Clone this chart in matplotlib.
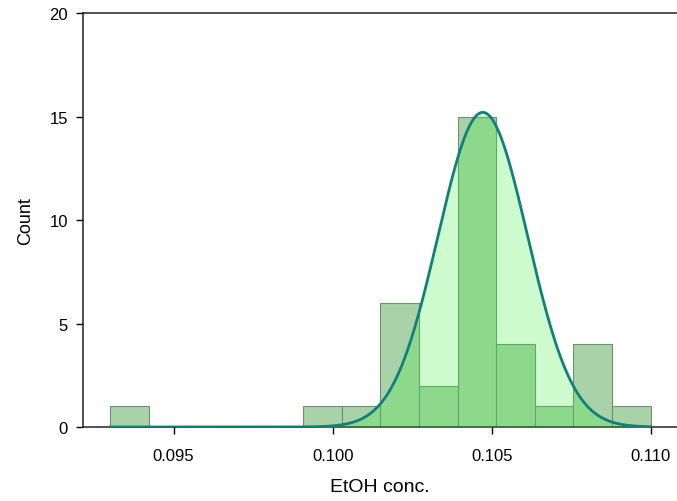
import numpy as np
import matplotlib.pyplot as plt

# ==========================
# data
# ==========================

bin_left = 0.093
bin_right = 0.110
counts = [1, 0, 0, 0, 0, 1, 1, 6, 2, 15, 4, 1, 4, 1]

# fitted normal curve
curve_mean = 0.10472
curve_sd = 0.00141
curve_peak = 15.2

x_ticks = [0.095, 0.100, 0.105, 0.110]
x_tick_labels = ["0.095", "0.100", "0.105", "0.110"]
y_ticks = [0, 5, 10, 15, 20]

plt.rcParams["font.family"] = ["Liberation Sans", "DejaVu Sans"]

edges = np.linspace(bin_left, bin_right, len(counts) + 1)
width = edges[1] - edges[0]

fig = plt.figure(figsize=(6.77, 5.02), dpi=100)
ax = fig.add_axes([0.123, 0.1474, 0.877, 0.8247])

ax.bar(
    edges[:-1], counts, width=width, align="edge",
    color="#a8d2a8", edgecolor="#6f8f6f", linewidth=0.8, zorder=2
)

xs = np.linspace(bin_left, bin_right, 400)
ys = curve_peak * np.exp(-0.5 * ((xs - curve_mean) / curve_sd) ** 2)

ax.fill_between(xs, 0, ys, color="#3ef03e", alpha=0.26, linewidth=0, zorder=3)
ax.plot(xs, ys, color="#12807a", linewidth=2, zorder=4)

ax.set_xlim(0.092157, 0.110827)
ax.set_ylim(0, 20)

ax.set_xticks(x_ticks)
ax.set_xticklabels(x_tick_labels)
ax.set_yticks(y_ticks)

ax.tick_params(axis="both", direction="out", length=5, width=1,
               labelsize=12, colors="black", pad=6)
ax.tick_params(axis="x", pad=10)

for side in ["left", "bottom", "top"]:
    ax.spines[side].set_linewidth(1.1)
    ax.spines[side].set_color("#222222")
ax.spines["right"].set_visible(False)

ax.set_xlabel("EtOH conc.", fontsize=14, labelpad=11)
ax.set_ylabel("Count", fontsize=13, labelpad=11)

fig.savefig("out.png", dpi=100)
plt.close(fig)
